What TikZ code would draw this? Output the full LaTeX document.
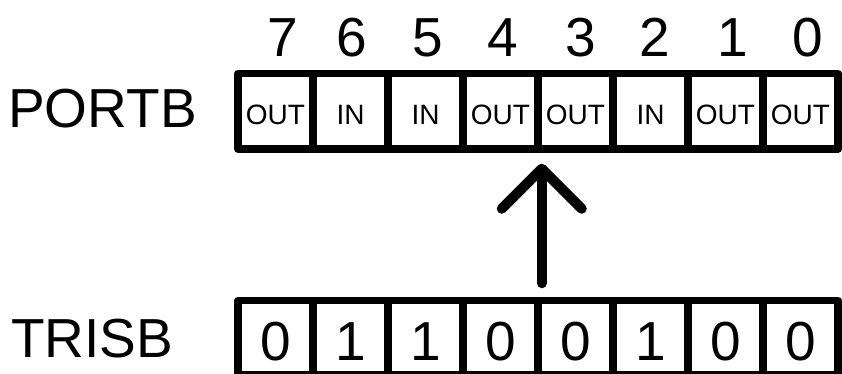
\documentclass[tikz,border=0pt]{standalone}
\usepackage{fontspec}
\setmainfont{Liberation Sans}
\usetikzlibrary{arrows.meta}

\begin{document}
\begin{tikzpicture}[
    x=1pt, y=-1pt,
    portcell/.style={rectangle, draw=black, fill=white, line width=7.5pt, line join=round, minimum width=75pt, minimum height=75.5pt, inner sep=0pt, text height=26pt, text depth=0pt, font=\fontsize{28}{30}\selectfont},
    triscell/.style={portcell, minimum height=74pt, text height=45pt, font=\fontsize{55}{60}\selectfont},
    bitnum/.style={anchor=base, inner sep=0pt, font=\fontsize{55}{60}\selectfont},
    regname/.style={anchor=base west, inner sep=0pt, font=\fontsize{55}{60}\selectfont},
    setarrow/.style={-{Straight Barb[length=40pt, width=80pt, line cap=round, line join=round]}, line width=10pt, line cap=round}
]
    \clip (0,0) rectangle (842,374);

    % Register names
    \node[regname] (portb) at (8,128) {PORTB};
    \node[regname] (trisb) at (11,357) {TRISB};

    % Bit numbers
    \node[bitnum] (n7) at (283,57) {7};
    \node[bitnum] (n6) at (352,57) {6};
    \node[bitnum] (n5) at (428,57) {5};
    \node[bitnum] (n4) at (503,57) {4};
    \node[bitnum] (n3) at (581,57) {3};
    \node[bitnum] (n2) at (655,57) {2};
    \node[bitnum] (n1) at (733,57) {1};
    \node[bitnum] (n0) at (808,57) {0};

    % PORTB cells
    \node[portcell] (p7) at (275.5,111.25) {OUT};
    \node[portcell] (p6) at (350.5,111.25) {IN};
    \node[portcell] (p5) at (425.5,111.25) {IN};
    \node[portcell] (p4) at (500.5,111.25) {OUT};
    \node[portcell] (p3) at (575.5,111.25) {OUT};
    \node[portcell] (p2) at (650.5,111.25) {IN};
    \node[portcell] (p1) at (725.5,111.25) {OUT};
    \node[portcell] (p0) at (800.5,111.25) {OUT};

    % TRISB cells
    \node[triscell] (t7) at (275.5,337.5) {0};
    \node[triscell] (t6) at (350.5,337.5) {1};
    \node[triscell] (t5) at (425.5,337.5) {1};
    \node[triscell] (t4) at (500.5,337.5) {0};
    \node[triscell] (t3) at (575.5,337.5) {0};
    \node[triscell] (t2) at (650.5,337.5) {1};
    \node[triscell] (t1) at (725.5,337.5) {0};
    \node[triscell] (t0) at (800.5,337.5) {0};

    % Arrow
    \draw[setarrow, shorten <=13.5pt, shorten >=11pt] (t4.north east) -- (p4.south east);
\end{tikzpicture}
\end{document}
